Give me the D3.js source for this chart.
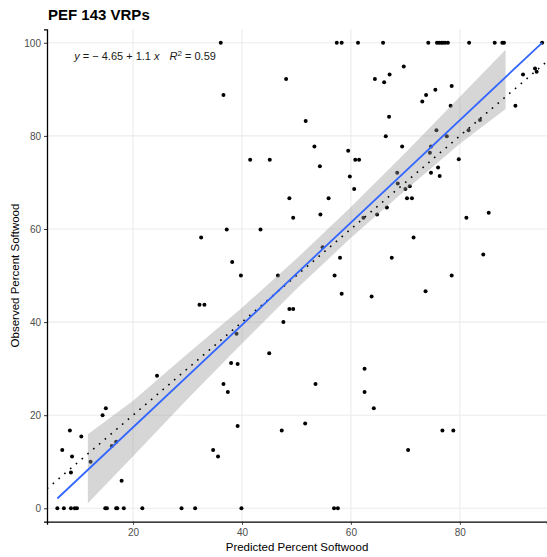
<!DOCTYPE html>
<html>
<head>
<meta charset="utf-8">
<script src="https://cdn.jsdelivr.net/npm/d3@7"></script>
<style>
  body { margin: 0; background: #fff; }
  svg { font-family: "Liberation Sans", Arial, sans-serif; }
</style>
</head>
<body>
<div id="chart"></div>
<script>
// predicted vs observed percent softwood
var predicted = [
  36.1, 57.4, 58.3, 61.3, 65.9, 74.2, 75.8, 76.2, 76.6, 76.9, 77.3, 77.8, 81.7, 86.4, 87.8, 88.1, 95.1,
  36.6, 41.5, 45.1, 48.1, 64.4, 51.7, 53.3, 59.5, 54.3, 60.8, 61.5, 59.8, 60.6, 48.7, 55.9,
  69.7, 66.1, 67.1, 78.5, 75.5, 73.8, 73.1, 78.3, 67.0, 66.4, 69.4, 75.7, 77.6, 74.7, 74.5,
  79.8, 76.0, 74.7, 76.3, 68.5, 68.6, 70.0, 70.8, 70.3, 71.2, 90.2, 91.6, 93.8, 94.1, 83.7, 81.6,
  32.5, 32.2, 33.1, 49.4, 54.4, 37.2, 43.4, 38.2, 39.8, 46.6, 54.8, 58.0, 57.0, 58.3, 63.8,
  48.7, 49.4, 47.6, 39.0, 45.0, 38.0, 39.2, 62.3, 66.6, 64.8, 81.2, 85.3, 71.5, 67.5, 84.3, 78.5, 73.7,
  14.4, 15.0, 8.4, 10.5, 7.0, 8.8, 8.6, 12.2, 16.1, 16.9, 17.9, 36.6, 37.4, 39.2, 34.7, 35.6,
  24.4, 53.5, 62.5, 62.5, 64.2, 47.3, 51.6, 76.8, 78.8, 70.5,
  6.1, 7.3, 8.6, 9.3, 9.7, 14.9, 15.2, 16.9, 17.1, 18.3, 21.7, 28.9, 31.4, 39.9, 56.9, 57.6
];
var observed = [
  100, 100, 100, 100, 100, 100, 100, 100, 100, 100, 100, 100, 100, 100, 100, 100, 100,
  88.8, 74.9, 74.9, 92.2, 92.2, 83.2, 77.7, 76.8, 73.5, 74.9, 74.9, 71.3, 68.6, 66.6, 66.6,
  94.9, 91.5, 93.2, 90.7, 89.9, 88.8, 87.4, 86.5, 84.1, 79.9, 77.7, 81.2, 79.9, 77.7, 76.4,
  75.0, 73.2, 72.1, 71.4, 72.1, 69.8, 68.6, 69.2, 66.6, 66.6, 86.5, 93.2, 94.5, 93.8, 83.4, 81.2,
  58.2, 43.7, 43.7, 62.4, 63.1, 59.9, 59.9, 52.9, 50.0, 50.0, 56.1, 53.8, 50.0, 46.1, 45.5,
  42.8, 42.8, 40.0, 37.5, 33.3, 31.2, 31.0, 62.4, 64.6, 63.1, 62.4, 63.5, 58.2, 53.8, 54.5, 50.0, 46.6,
  20.0, 21.5, 16.7, 15.4, 12.5, 11.1, 7.7, 10.0, 13.4, 14.3, 5.9, 26.7, 25.0, 17.7, 12.5, 11.1,
  28.5, 26.7, 30.0, 25.0, 21.5, 16.7, 18.2, 16.7, 16.7, 12.5,
  0, 0, 0, 0, 0, 0, 0, 0, 0, 0, 0, 0, 0, 0, 0, 0
];

// fitted line ends and confidence band
var fitX = [6.1, 95.1];
var fitY = [2.1, 100];
var bandX = [11.7, 20, 30, 40, 50, 60, 70, 80, 88.4];
var bandLo = [1.1, 11.2, 23.5, 35.4, 47.1, 58.1, 68.3, 78.3, 85.8];
var bandHi = [15.9, 23.1, 33.2, 43.1, 53.6, 64.7, 76.4, 88.4, 98.5];

var xTicks = [20, 40, 60, 80];
var yTicks = [0, 20, 40, 60, 80, 100];

var W = 547, H = 557;
var margin = {top: 29.3, right: 0, bottom: 35.3, left: 47},
    width = W - margin.left - margin.right,
    height = H - margin.top - margin.bottom;

var svg = d3.select("#chart").append("svg")
    .attr("width", W)
    .attr("height", H);

var g = svg.append("g")
    .attr("transform", "translate(" + margin.left + "," + margin.top + ")");

var x = d3.scaleLinear().domain([4.2, 96]).range([0, width]);
var y = d3.scaleLinear().domain([-2.88, 102.9]).range([height, 0]);

// grid
g.append("g").selectAll("line").data(xTicks).enter().append("line")
    .attr("x1", d => x(d)).attr("x2", d => x(d))
    .attr("y1", 0).attr("y2", height)
    .attr("stroke", "#ebebeb").attr("stroke-width", 1.1);
g.append("g").selectAll("line").data(yTicks).enter().append("line")
    .attr("x1", 0).attr("x2", width)
    .attr("y1", d => y(d)).attr("y2", d => y(d))
    .attr("stroke", "#ebebeb").attr("stroke-width", 1.1);

svg.append("clipPath").attr("id", "panel")
  .append("rect").attr("width", width).attr("height", height);
var panel = g.append("g").attr("clip-path", "url(#panel)");

// points
panel.append("g").selectAll("circle")
  .data(predicted.map((p, i) => ({x: p, y: observed[i]})))
  .enter().append("circle")
    .attr("cx", d => x(d.x))
    .attr("cy", d => y(d.y))
    .attr("r", 2)
    .attr("fill", "#000");

// confidence band
var band = bandX.map((v, i) => ({x: v, lo: bandLo[i], hi: bandHi[i]}));
panel.append("path")
    .datum(band)
    .attr("d", d3.area().x(d => x(d.x)).y0(d => y(d.lo)).y1(d => y(d.hi)))
    .attr("fill", "#999999")
    .attr("fill-opacity", 0.4);

// 1:1 reference line
panel.append("path")
    .datum(x.domain())
    .attr("d", d3.line().x(d => x(d)).y(d => y(d)))
    .attr("stroke", "#000")
    .attr("stroke-width", 1.6)
    .attr("stroke-dasharray", "1.6,6")
    .attr("fill", "none");

// fit line
panel.append("path")
    .datum(fitX.map((v, i) => [v, fitY[i]]))
    .attr("d", d3.line().x(d => x(d[0])).y(d => y(d[1])))
    .attr("stroke", "#3366FF")
    .attr("stroke-width", 1.8)
    .attr("fill", "none");

// axes
var xAxis = g.append("g")
    .attr("transform", "translate(0," + height + ")")
    .call(d3.axisBottom(x).tickValues(xTicks).tickSize(3).tickPadding(4));
var yAxis = g.append("g")
    .call(d3.axisLeft(y).tickValues(yTicks).tickSize(3).tickPadding(3));
[xAxis, yAxis].forEach(function(a) {
  a.select(".domain").attr("stroke", "#000").attr("stroke-width", 1.3);
  a.selectAll(".tick line").attr("stroke", "#333");
  a.selectAll(".tick text").attr("fill", "#4d4d4d")
    .style("font-size", "10px")
    .style("font-family", "'Liberation Sans', Arial, sans-serif");
});

// equation label
var eq = g.append("text")
    .attr("x", x(9.2))
    .attr("y", y(96.2))
    .style("font-size", "11px")
    .attr("fill", "#1a1a1a");
eq.append("tspan").style("font-style", "italic").text("y");
eq.append("tspan").text(" = \u2212 4.65 + 1.1 ");
eq.append("tspan").style("font-style", "italic").text("x");
eq.append("tspan").attr("dx", 10).style("font-style", "italic").text("R");
eq.append("tspan").attr("dy", -4).style("font-size", "8px").text("2");
eq.append("tspan").attr("dy", 4).text(" = 0.59");

// titles
svg.append("text")
    .attr("x", margin.left + 1)
    .attr("y", 19.5)
    .style("font-size", "15px")
    .style("font-weight", "bold")
    .text("PEF 143 VRPs");

svg.append("text")
    .attr("x", margin.left + width / 2)
    .attr("y", 551)
    .attr("text-anchor", "middle")
    .style("font-size", "11.5px")
    .text("Predicted Percent Softwood");

svg.append("text")
    .attr("transform", "translate(19," + (margin.top + height / 2) + ") rotate(-90)")
    .attr("text-anchor", "middle")
    .style("font-size", "11.5px")
    .text("Observed Percent Softwood");
</script>
</body>
</html>
